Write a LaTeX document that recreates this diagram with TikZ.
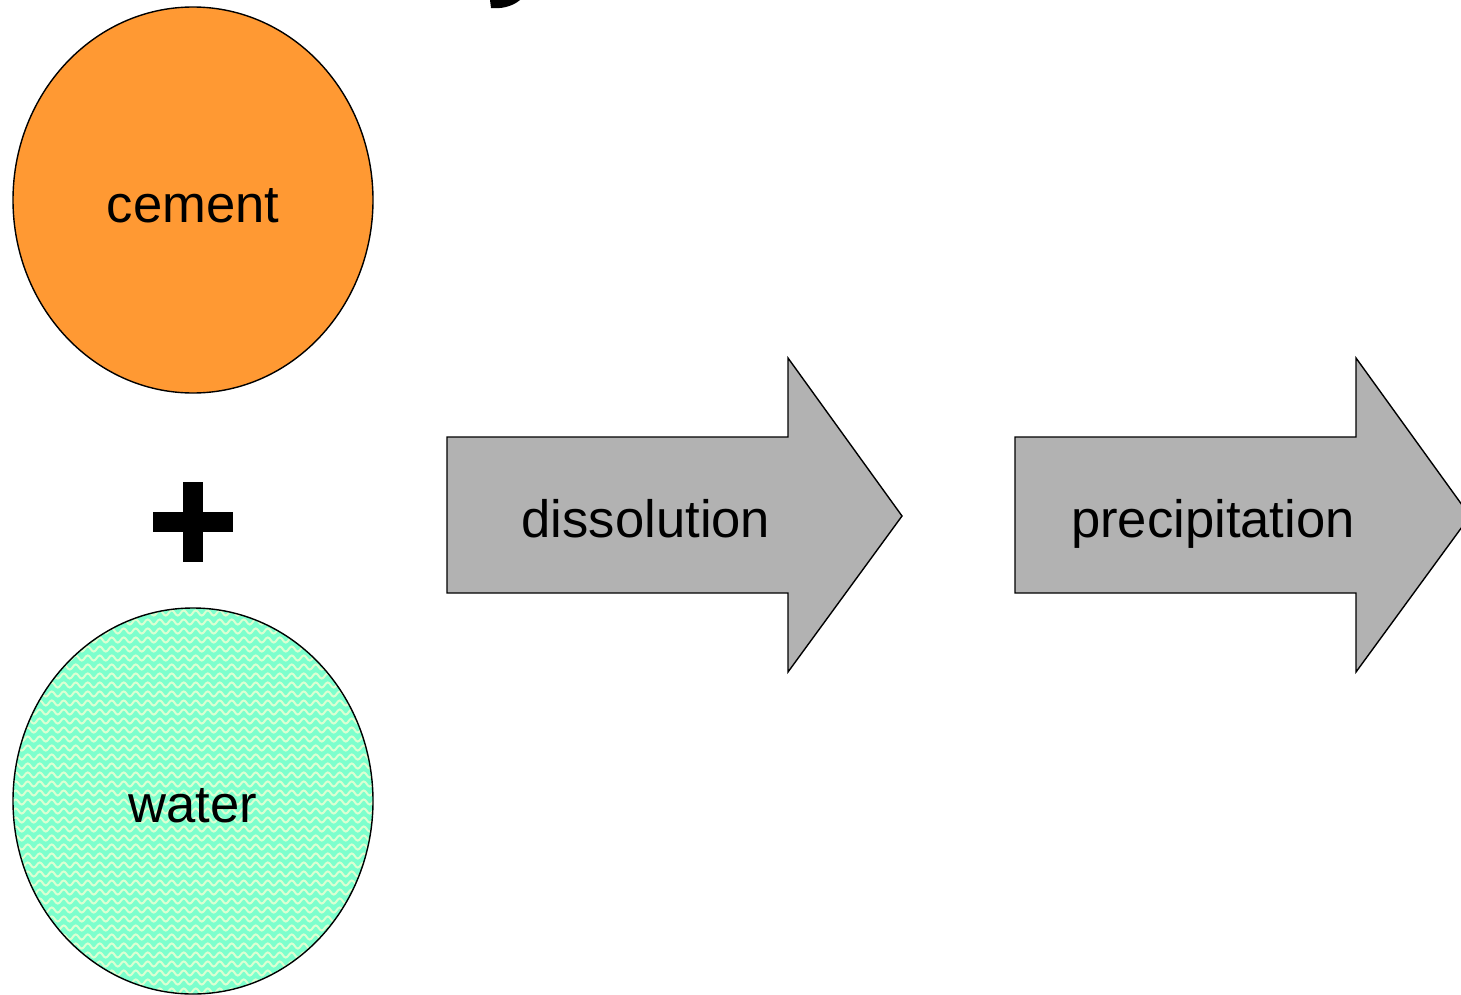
\documentclass[tikz,border=0pt]{standalone}
\usepackage{fontspec}
\setmainfont{Liberation Sans}
\usetikzlibrary{decorations.pathmorphing}
\definecolor{cementc}{RGB}{255,153,51}
\definecolor{waterc}{RGB}{125,255,205}
\definecolor{wavec}{RGB}{220,255,210}
\definecolor{arrowc}{RGB}{178,178,178}
\tikzset{
  blob/.style={draw=black, line width=0.7pt},
  lbl/.style={font=\fontsize{26.3pt}{30pt}\selectfont, text=black, inner sep=0pt, anchor=base},
  bigarrow/.style={draw=black, fill=arrowc, line width=0.7pt, line join=miter},
  wave/.style={draw=wavec, line width=1pt, decorate, decoration={snake, segment length=6pt, amplitude=1.3pt}}
}
\begin{document}
\begin{tikzpicture}[x=0.5pt,y=-0.5pt]
\useasboundingbox (0,0) rectangle (1461,995);
\clip (0,0) rectangle (1461,995);
% partial title glyph at top
\fill[black] (490,0) -- (520,0) .. controls (512,7) and (500,9) .. (491,8) -- cycle;
% cement
\fill[cementc] (193,200) ellipse [x radius=180, y radius=193];
\draw[blob] (193,200) ellipse [x radius=180, y radius=193];
\node[lbl] (cement) at (193,222) {cement};
% plus
\fill[black] (183,482) rectangle (203,562);
\fill[black] (153,512) rectangle (233,532);
\coordinate (plus) at (193,522);
% water
\fill[waterc] (193,801) ellipse [x radius=180, y radius=193];
\begin{scope}
\clip (193,801) ellipse [x radius=180, y radius=193];
\foreach \yy in {604,613,...,1000} {
  \draw[wave] (0,\yy) -- (400,\yy);
}
\end{scope}
\draw[blob] (193,801) ellipse [x radius=180, y radius=193];
\node[lbl] (water) at (193,822) {water};
% arrows
\draw[bigarrow] (447,437) -- (788,437) -- (788,358) -- (902,516) -- (788,672) -- (788,593) -- (447,593) -- cycle;
\node[lbl] (dissolution) at (646,537) {dissolution};
\draw[bigarrow] (1015,437) -- (1356,437) -- (1356,358) -- (1470,516) -- (1356,672) -- (1356,593) -- (1015,593) -- cycle;
\node[lbl] (precipitation) at (1213,537) {precipitation};
\end{tikzpicture}
\end{document}
